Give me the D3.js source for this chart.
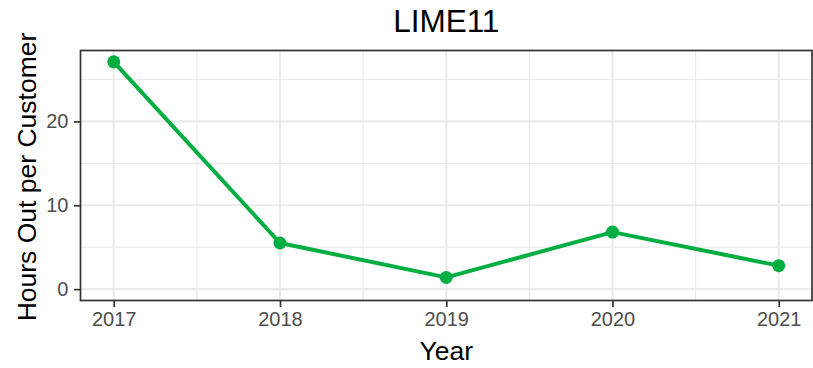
<!DOCTYPE html>
<html>
<head>
<meta charset="utf-8">
<script src="https://cdn.jsdelivr.net/npm/d3@7"></script>
<style>
  html, body { margin: 0; padding: 0; background: #ffffff; }
  svg { display: block; font-family: "Liberation Sans", Arial, sans-serif; }
</style>
</head>
<body>
<svg id="chart" width="813" height="368"></svg>
<script>
// Outage hours per customer by year
const years = [2017, 2018, 2019, 2020, 2021];
const hoursOut = [27.1, 5.5, 1.4, 6.8, 2.8];
const yTicks = [0, 10, 20];
const yMinor = [5, 15, 25];
const xMinor = [2017.5, 2018.5, 2019.5, 2020.5];
const chartTitle = "LIME11";
const xTitle = "Year";
const yTitle = "Hours Out per Customer";

const W = 813, H = 368;
const panel = { left: 80.5, right: 812, top: 50.5, bottom: 300.5 };
const svg = d3.select("#chart");

// 5% expansion on both axes; y range includes zero
const xExt = d3.extent(years);
const xPad = (xExt[1] - xExt[0]) * 0.05;
const yLo = 0, yHi = d3.max(hoursOut);
const yPad = (yHi - yLo) * 0.05;

const x = d3.scaleLinear()
  .domain([xExt[0] - xPad, xExt[1] + xPad])
  .range([panel.left, panel.right]);
const y = d3.scaleLinear()
  .domain([yLo - yPad, yHi + yPad])
  .range([panel.bottom, panel.top]);

const grid = svg.append("g");
// minor grid
grid.selectAll(".ymin").data(yMinor).join("line")
  .attr("x1", panel.left).attr("x2", panel.right)
  .attr("y1", d => y(d)).attr("y2", d => y(d))
  .attr("stroke", "#ebebeb").attr("stroke-width", 1.2);
grid.selectAll(".xmin").data(xMinor).join("line")
  .attr("y1", panel.top).attr("y2", panel.bottom)
  .attr("x1", d => x(d)).attr("x2", d => x(d))
  .attr("stroke", "#ebebeb").attr("stroke-width", 1.2);
// major grid
grid.selectAll(".ymaj").data(yTicks).join("line")
  .attr("x1", panel.left).attr("x2", panel.right)
  .attr("y1", d => y(d)).attr("y2", d => y(d))
  .attr("stroke", "#ebebeb").attr("stroke-width", 2.2);
grid.selectAll(".xmaj").data(years).join("line")
  .attr("y1", panel.top).attr("y2", panel.bottom)
  .attr("x1", d => x(d)).attr("x2", d => x(d))
  .attr("stroke", "#ebebeb").attr("stroke-width", 2.2);

// series
const green = "#00ae41";
const pts = years.map((yr, i) => ({ yr, v: hoursOut[i] }));
svg.append("path")
  .datum(pts)
  .attr("fill", "none")
  .attr("stroke", green)
  .attr("stroke-width", 4)
  .attr("stroke-linejoin", "round")
  .attr("d", d3.line().x(d => x(d.yr)).y(d => y(d.v)));
svg.selectAll(".pt").data(pts).join("circle")
  .attr("cx", d => x(d.yr)).attr("cy", d => y(d.v))
  .attr("r", 6.5).attr("fill", green);

// panel border
svg.append("rect")
  .attr("x", panel.left).attr("y", panel.top)
  .attr("width", panel.right - panel.left)
  .attr("height", panel.bottom - panel.top)
  .attr("fill", "none").attr("stroke", "#333333").attr("stroke-width", 1.7);

// axes
const xAxis = d3.axisBottom(x).tickValues(years).tickFormat(d3.format("d"))
  .tickSize(6.6).tickPadding(5);
const yAxis = d3.axisLeft(y).tickValues(yTicks).tickSize(6.6).tickPadding(5.5);

const gx = svg.append("g").attr("transform", `translate(0,${panel.bottom})`).call(xAxis);
const gy = svg.append("g").attr("transform", `translate(${panel.left},0)`).call(yAxis);
[gx, gy].forEach(g => {
  g.select(".domain").remove();
  g.selectAll(".tick line").attr("stroke", "#333333").attr("stroke-width", 1.7);
  g.selectAll(".tick text").attr("fill", "#4d4d4d")
    .style("font-size", "20px").style("font-family", "Liberation Sans, Arial, sans-serif");
});

// titles
svg.append("text")
  .attr("x", (panel.left + panel.right) / 2).attr("y", 31.5)
  .attr("text-anchor", "middle").attr("fill", "#000")
  .style("font-size", "31.5px").text(chartTitle);
svg.append("text")
  .attr("x", (panel.left + panel.right) / 2).attr("y", 359.5)
  .attr("text-anchor", "middle").attr("fill", "#000")
  .style("font-size", "26.5px").text(xTitle);
svg.append("text")
  .attr("transform", `translate(35.5,${(panel.top + panel.bottom) / 2 + 1.5}) rotate(-90)`)
  .attr("text-anchor", "middle").attr("fill", "#000")
  .style("font-size", "26.5px").text(yTitle);
</script>
</body>
</html>
